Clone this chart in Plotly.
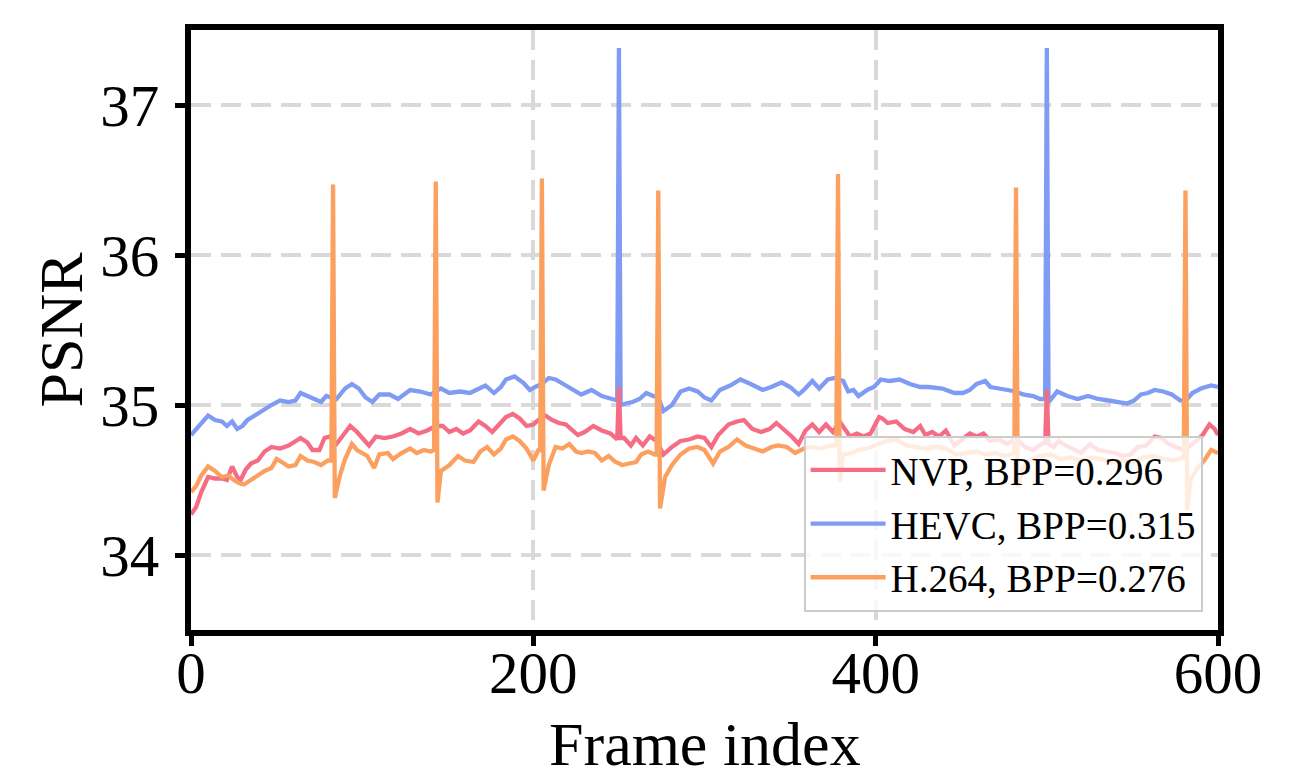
import plotly.graph_objects as go

# ---------------- data ----------------
hevc_frames = [0, 3, 7, 10, 14, 18, 21, 24, 27, 30, 33, 37, 43, 47, 52, 57, 61, 64, 68, 72, 76, 79, 82, 85,
               90, 94, 98, 102, 106, 110, 116, 121, 128, 134, 140, 146, 151, 157, 163, 167, 172, 177, 181,
               184, 189, 194, 198, 201, 205, 209, 213, 219, 225, 228, 234, 240, 246, 249, 250, 251, 254,
               258, 262, 266, 270, 273, 276, 281, 286, 291, 296, 300, 304, 309, 315, 321, 327, 334, 339,
               345, 350, 355, 358, 363, 367, 372, 376, 381, 384, 387, 390, 395, 399, 403, 408, 414, 420,
               426, 431, 439, 446, 451, 455, 459, 464, 467, 472, 477, 482, 486, 492, 496, 499, 500, 501,
               504, 506, 512, 518, 524, 530, 536, 542, 547, 551, 555, 559, 563, 568, 573, 578, 582, 585,
               590, 596, 600]
hevc_psnr = [34.80, 34.84, 34.90, 34.93, 34.90, 34.89, 34.86, 34.89, 34.84, 34.86, 34.90, 34.93, 34.97,
             35.00, 35.03, 35.02, 35.03, 35.08, 35.06, 35.04, 35.02, 35.06, 35.05, 35.04, 35.11, 35.14,
             35.11, 35.05, 35.02, 35.07, 35.07, 35.04, 35.10, 35.09, 35.07, 35.11, 35.08, 35.09, 35.08,
             35.10, 35.13, 35.08, 35.12, 35.17, 35.19, 35.15, 35.10, 35.12, 35.14, 35.18, 35.17, 35.13,
             35.09, 35.07, 35.10, 35.06, 35.04, 35.03, 37.38, 35.00, 35.01, 35.02, 35.04, 35.08, 35.06,
             35.05, 34.96, 35.00, 35.09, 35.11, 35.09, 35.05, 35.03, 35.10, 35.13, 35.17, 35.14, 35.10,
             35.12, 35.15, 35.12, 35.07, 35.10, 35.16, 35.11, 35.17, 35.18, 35.16, 35.09, 35.10, 35.06,
             35.10, 35.12, 35.17, 35.16, 35.17, 35.14, 35.12, 35.12, 35.11, 35.08, 35.08, 35.10, 35.14,
             35.16, 35.12, 35.11, 35.10, 35.09, 35.07, 35.06, 35.04, 35.04, 37.38, 35.02, 35.06, 35.09,
             35.06, 35.04, 35.06, 35.04, 35.03, 35.02, 35.01, 35.03, 35.07, 35.08, 35.10, 35.09, 35.07,
             35.03, 35.04, 35.08, 35.11, 35.13, 35.12]

nvp_frames = [0, 3, 6, 10, 14, 18, 21, 24, 27, 29, 32, 35, 39, 43, 47, 52, 57, 61, 64, 68, 71, 75, 78, 81,
              85, 89, 93, 97, 100, 104, 108, 113, 118, 123, 128, 133, 138, 143, 147, 151, 155, 159, 163,
              168, 172, 176, 180, 184, 188, 192, 196, 200, 203, 207, 211, 215, 219, 223, 226, 230, 235,
              240, 245, 249, 250, 251, 253, 257, 260, 264, 268, 272, 276, 281, 286, 291, 296, 300, 304,
              308, 314, 319, 323, 328, 333, 338, 342, 346, 351, 355, 359, 363, 367, 371, 375, 379, 381,
              385, 389, 393, 397, 402, 404, 407, 412, 417, 422, 426, 429, 433, 437, 441, 446, 451, 455,
              459, 463, 467, 472, 477, 482, 487, 492, 497, 499, 500, 501, 504, 507, 511, 515, 520, 525,
              530, 535, 540, 544, 549, 553, 558, 563, 567, 571, 576, 580, 583, 587, 591, 595, 598, 600]
nvp_psnr = [34.27, 34.32, 34.42, 34.52, 34.51, 34.51, 34.50, 34.59, 34.52, 34.50, 34.57, 34.61, 34.63,
            34.69, 34.72, 34.71, 34.73, 34.76, 34.78, 34.75, 34.70, 34.70, 34.78, 34.79, 34.74, 34.80,
            34.86, 34.82, 34.78, 34.73, 34.79, 34.78, 34.79, 34.81, 34.84, 34.81, 34.83, 34.86, 34.86,
            34.82, 34.84, 34.81, 34.83, 34.89, 34.86, 34.82, 34.87, 34.92, 34.94, 34.91, 34.86, 34.87,
            34.90, 34.93, 34.90, 34.88, 34.87, 34.83, 34.80, 34.82, 34.86, 34.83, 34.81, 34.77, 35.12,
            34.78, 34.78, 34.73, 34.78, 34.73, 34.79, 34.76, 34.67, 34.72, 34.76, 34.77, 34.79, 34.78,
            34.72, 34.80, 34.87, 34.89, 34.90, 34.84, 34.82, 34.84, 34.88, 34.84, 34.79, 34.74, 34.83,
            34.87, 34.82, 34.87, 34.82, 34.89, 34.86, 34.79, 34.81, 34.79, 34.81, 34.92, 34.91, 34.88,
            34.89, 34.84, 34.82, 34.86, 34.80, 34.82, 34.79, 34.83, 34.73, 34.77, 34.81, 34.79, 34.81,
            34.76, 34.77, 34.74, 34.78, 34.72, 34.70, 34.74, 34.75, 35.10, 34.74, 34.72, 34.76, 34.73,
            34.71, 34.68, 34.74, 34.70, 34.69, 34.68, 34.66, 34.67, 34.72, 34.73, 34.79, 34.78, 34.74,
            34.72, 34.70, 34.72, 34.76, 34.80, 34.87, 34.84, 34.80]

h264_frames = [0, 3, 6, 10, 14, 18, 22, 25, 28, 31, 35, 39, 43, 47, 50, 53, 57, 61, 64, 68, 72, 76, 80, 82,
               83, 84, 87, 90, 94, 97, 100, 103, 107, 110, 115, 118, 123, 128, 132, 136, 140, 142, 143,
               144, 146, 151, 156, 160, 165, 169, 173, 177, 181, 184, 188, 192, 196, 200, 203, 204, 205,
               206, 209, 213, 217, 221, 225, 228, 232, 236, 240, 244, 248, 252, 256, 260, 263, 267, 271,
               272, 273, 274, 277, 281, 286, 291, 296, 300, 305, 309, 314, 319, 324, 329, 334, 339, 343,
               348, 353, 358, 363, 368, 373, 377, 378, 379, 381, 386, 390, 395, 399, 406, 412, 418, 424,
               429, 435, 441, 447, 453, 459, 464, 470, 476, 481, 482, 483, 486, 490, 496, 502, 508, 514,
               520, 526, 532, 538, 544, 550, 556, 562, 568, 574, 580, 581, 582, 584, 588, 592, 596, 600]
h264_psnr = [34.42, 34.46, 34.53, 34.59, 34.56, 34.52, 34.53, 34.50, 34.48, 34.47, 34.50, 34.53, 34.56,
             34.58, 34.64, 34.62, 34.59, 34.60, 34.66, 34.63, 34.62, 34.60, 34.63, 34.63, 36.47, 34.38,
             34.53, 34.64, 34.74, 34.70, 34.68, 34.66, 34.58, 34.67, 34.68, 34.64, 34.68, 34.71, 34.68,
             34.70, 34.69, 34.70, 36.49, 34.35, 34.56, 34.60, 34.66, 34.63, 34.62, 34.69, 34.72, 34.67,
             34.71, 34.77, 34.79, 34.76, 34.71, 34.63, 34.70, 34.70, 36.51, 34.43, 34.60, 34.72, 34.71,
             34.74, 34.69, 34.68, 34.69, 34.68, 34.63, 34.66, 34.62, 34.60, 34.61, 34.62, 34.67, 34.69,
             34.67, 34.67, 36.43, 34.31, 34.52, 34.60, 34.67, 34.71, 34.72, 34.70, 34.61, 34.69, 34.72,
             34.77, 34.73, 34.71, 34.69, 34.72, 34.73, 34.72, 34.68, 34.71, 34.72, 34.71, 34.73, 34.73,
             36.54, 34.49, 34.67, 34.68, 34.70, 34.71, 34.73, 34.76, 34.77, 34.73, 34.72, 34.71, 34.72,
             34.71, 34.67, 34.68, 34.69, 34.67, 34.68, 34.66, 34.68, 36.45, 34.45, 34.58, 34.63, 34.66,
             34.67, 34.64, 34.65, 34.63, 34.65, 34.64, 34.62, 34.63, 34.62, 34.65, 34.66, 34.64, 34.63,
             34.65, 36.43, 34.30, 34.50, 34.58, 34.63, 34.70, 34.68]

series_names = ["NVP, BPP=0.296", "HEVC, BPP=0.315", "H.264, BPP=0.276"]
x_ticks = [0, 200, 400, 600]
y_ticks = [34, 35, 36, 37]
x_title = "Frame index"
y_title = "PSNR"

# ---------------- styling ----------------
FONT = "Liberation Serif"
C_NVP = "#f46d84"
C_HEVC = "#7f9bf3"
C_H264 = "#fba05f"
LW = 4.3

fig = go.Figure()
fig.add_trace(go.Scatter(x=hevc_frames, y=hevc_psnr, mode="lines", name=series_names[1],
                         line=dict(color=C_HEVC, width=LW), legendrank=2))
fig.add_trace(go.Scatter(x=nvp_frames, y=nvp_psnr, mode="lines", name=series_names[0],
                         line=dict(color=C_NVP, width=LW), legendrank=1))
fig.add_trace(go.Scatter(x=h264_frames, y=h264_psnr, mode="lines", name=series_names[2],
                         line=dict(color=C_H264, width=LW), legendrank=3))

axis_common = dict(
    showline=True, linecolor="black", linewidth=6, mirror=True,
    ticks="outside", ticklen=10, tickwidth=5, tickcolor="black",
    showgrid=True, gridcolor="#d9d9d9", gridwidth=3.5, griddash="20px,10px",
    zeroline=False, tickfont=dict(family=FONT, size=59, color="black"),
    automargin=False,
)

fig.update_xaxes(range=[0, 600], tickvals=x_ticks, **axis_common, ticklabelstandoff=-24)
fig.update_yaxes(range=[33.5, 37.5], tickvals=y_ticks, **axis_common, ticklabelstandoff=4,
                 title=dict(text=y_title, font=dict(family=FONT, size=62, color="black"), standoff=0))

fig.add_annotation(text=x_title, xref="paper", yref="paper", x=0.5, y=-0.19,
                   xanchor="center", yanchor="middle", showarrow=False,
                   font=dict(family=FONT, size=62, color="black"))

fig.update_layout(
    width=1298, height=780,
    margin=dict(l=183, r=88, t=22, b=158),
    plot_bgcolor="white", paper_bgcolor="white",
    font=dict(family=FONT, color="black"),
    legend=dict(
        x=0.985, y=0.03, xanchor="right", yanchor="bottom",
        bgcolor="rgba(255,255,255,0.8)", bordercolor="#cccccc", borderwidth=2,
        font=dict(family=FONT, size=39, color="black"),
        traceorder="normal", tracegroupgap=0, itemwidth=75,
    ),
    showlegend=True,
)

fig.write_html("out.html")
